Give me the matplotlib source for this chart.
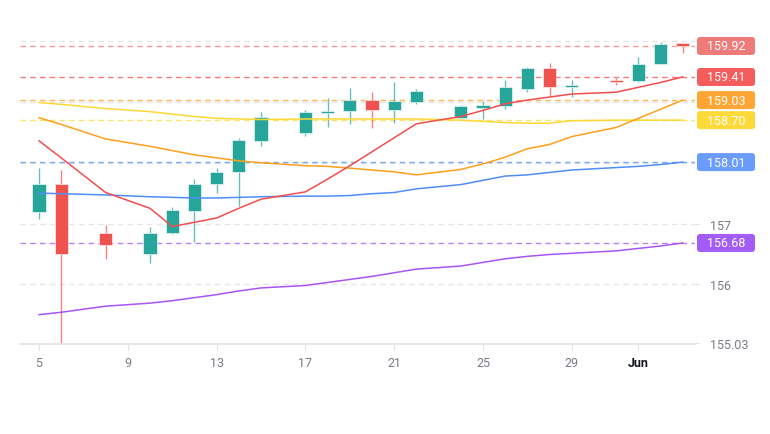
import matplotlib
matplotlib.use("Agg")
import matplotlib.pyplot as plt
from matplotlib.patches import FancyBboxPatch
from matplotlib.transforms import IdentityTransform

plt.rcParams["font.family"] = ["Roboto", "DejaVu Sans"]

# slot on the time scale (0 = May 5), only slots that hold a bar
slots = [0, 1, 3, 5, 6, 7, 8, 9, 10, 12, 13, 14, 15, 16, 17, 19, 20, 21, 22, 23, 24, 26, 27, 28, 29]
opens = [157.19, 157.65, 156.84, 156.50, 156.84, 157.21, 157.65, 157.84, 158.36, 158.49, 158.83, 158.85, 159.03,
         158.87, 159.00, 158.74, 158.92, 158.94, 159.22, 159.55, 159.25, 159.35, 159.34, 159.62, 159.97]
highs = [157.92, 157.88, 156.98, 156.94, 157.27, 157.74, 157.91, 158.41, 158.83, 158.87, 159.06, 159.23, 159.16,
         159.33, 159.22, 158.95, 159.01, 159.36, 159.57, 159.64, 159.36, 159.40, 159.74, 159.98, 159.97]
lows = [157.07, 155.03, 156.42, 156.35, 156.82, 156.69, 157.50, 157.29, 158.27, 158.44, 158.58, 158.64, 158.57,
        158.66, 158.97, 158.73, 158.72, 158.88, 159.16, 159.09, 159.08, 159.28, 159.33, 159.62, 159.80]
closes = [157.65, 156.50, 156.65, 156.84, 157.23, 157.65, 157.84, 158.37, 158.75, 158.84, 158.85, 159.03, 158.87,
          159.01, 159.18, 158.94, 158.93, 159.24, 159.55, 159.24, 159.27, 159.33, 159.63, 159.96, 159.92]

ma_red = [158.36, 158.08, 157.51, 157.25, 156.95, 157.02, 157.09, 157.25, 157.40, 157.52, 157.73, 157.95, 158.18,
          158.41, 158.64, 158.76, 158.86, 158.97, 159.03, 159.08, 159.13, 159.16, 159.24, 159.32, 159.41]
ma_orange = [158.74, 158.63, 158.39, 158.27, 158.20, 158.13, 158.08, 158.03, 158.00, 157.95, 157.94, 157.91, 157.88,
             157.85, 157.80, 157.89, 157.98, 158.09, 158.23, 158.30, 158.43, 158.58, 158.73, 158.88, 159.03]
ma_yellow = [158.99, 158.96, 158.89, 158.84, 158.80, 158.76, 158.73, 158.72, 158.71, 158.72, 158.72, 158.72, 158.72,
             158.72, 158.72, 158.70, 158.68, 158.66, 158.65, 158.65, 158.69, 158.70, 158.70, 158.70, 158.70]
ma_blue = [157.50, 157.49, 157.47, 157.44, 157.43, 157.42, 157.42, 157.43, 157.44, 157.45, 157.45, 157.46, 157.49,
           157.51, 157.57, 157.64, 157.71, 157.78, 157.80, 157.84, 157.88, 157.92, 157.94, 157.97, 158.01]
ma_purple = [155.50, 155.54, 155.64, 155.69, 155.73, 155.78, 155.83, 155.89, 155.94, 155.98, 156.03, 156.08, 156.13,
             156.19, 156.25, 156.30, 156.36, 156.42, 156.46, 156.49, 156.51, 156.55, 156.59, 156.63, 156.68]

tick_slots = [0, 4, 8, 12, 16, 20, 24, 27]
tick_labels = ["5", "9", "13", "17", "21", "25", "29", "Jun"]
price_ticks = [155.03, 156, 157]      # 158/159/160 sit under the value boxes
grid_levels = [156, 157, 158, 159, 160]

UP, DOWN = "#26a69a", "#ef5350"
series = [
    (ma_purple, "#a855f7", "#a45cf6"),
    (ma_blue, "#4f8ef7", "#6a9cfb"),
    (ma_yellow, "#fdd835", "#fdd93a"),
    (ma_orange, "#ff9f1c", "#ffa534"),
    (ma_red, "#f44d4d", "#f55c5c"),
]

fig = plt.figure(figsize=(7.7, 4.35), dpi=100)
ax = fig.add_axes([20 / 770, 90 / 435, 675 / 770, 330 / 435])
ax.set_xlim(-0.856, 29.55)
ax.set_ylim(155.018, 160.446)

for lvl in grid_levels:
    ax.axhline(lvl, color="#e6e6e6", lw=1, ls=(0, (4, 3)), zorder=0)

# candles
for s, o, h, l, c in zip(slots, opens, highs, lows, closes):
    col = UP if c >= o else DOWN
    ax.vlines(s, l, h, color=col, alpha=0.7, lw=1, zorder=2)
    body = max(abs(c - o), 0.035)
    ax.bar(s, body, bottom=min(o, c) - (body - abs(c - o)) / 2, width=0.6,
           color=col, edgecolor="white", linewidth=0.4, zorder=3)

# moving averages + dashed price lines
for vals, col, _ in series:
    ax.plot(slots, vals, color=col, lw=1.1, zorder=4)
    ax.axhline(vals[-1], color=col, alpha=0.75, lw=1, ls=(0, (4, 3)), zorder=1)
last_col = DOWN if closes[-1] < opens[-1] else UP
ax.axhline(closes[-1], color=last_col, alpha=0.6, lw=1, ls=(0, (4, 3)), zorder=1)

for sp in ["top", "left", "right"]:
    ax.spines[sp].set_visible(False)
ax.spines["bottom"].set_color("#e3e3e3")
ax.spines["bottom"].set_linewidth(1.2)

ax.set_xticks(tick_slots)
ax.set_xticklabels(tick_labels)
ax.tick_params(axis="x", length=4, color="#e3e3e3", labelsize=9, labelcolor="#787b86", pad=5)
ax.get_xticklabels()[-1].set_fontweight("bold")
ax.get_xticklabels()[-1].set_color("#131722")

ax.yaxis.set_ticks_position("right")
ax.set_yticks(price_ticks)
ax.set_yticklabels([f"{v:g}" for v in price_ticks])
ax.tick_params(axis="y", left=False, labelleft=False, length=3, color="#e3e3e3",
               labelsize=9, labelcolor="#787b86", pad=8)

# value boxes on the price scale
boxes = [(closes[-1], "#ef7a7a")] + [(vals[-1], bc) for vals, _, bc in series]
for val, bc in boxes:
    yd = ax.transData.transform((0, val))[1]
    fig.add_artist(FancyBboxPatch((697, yd - 9), 58, 18, boxstyle="round,pad=0,rounding_size=3",
                                  transform=IdentityTransform(), fc=bc, ec="none", zorder=5))
    fig.text(726 / 770, yd / 435, f"{val:.2f}", ha="center", va="center", color="white",
             fontsize=9, zorder=6)

fig.savefig("out.png", dpi=100)
